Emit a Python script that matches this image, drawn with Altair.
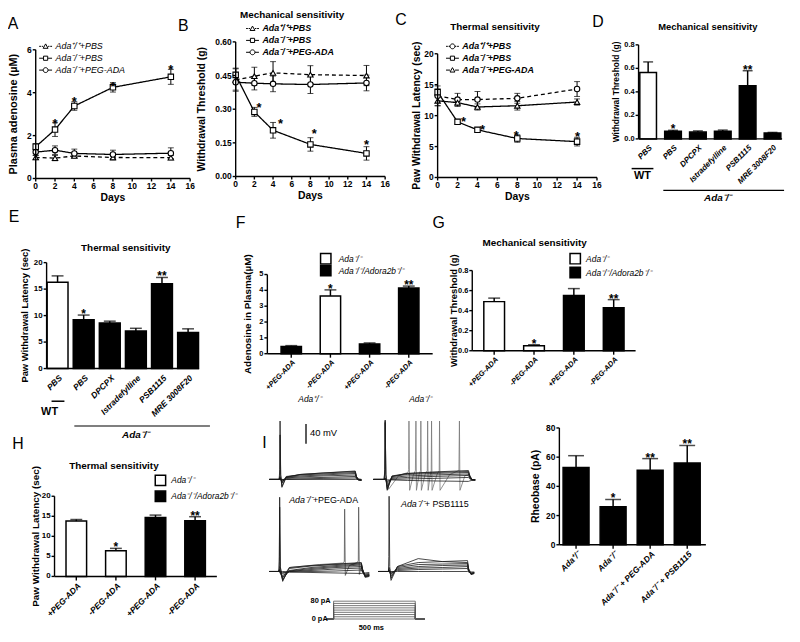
import altair as alt
import pandas as pd

W, H = 792, 634
FONT = "Liberation Sans"
NARROW = "Liberation Sans Narrow, Liberation Sans, Arial"


def px(v):
    return v - 8


def py(v):
    return v - 8


KO = "Ada⁻/⁻"
WTG = "Ada⁺/⁺"
HET = "Ada⁺/⁻"
DKO = "Ada⁻/⁻/Adora2b⁻/⁻"

# ---------------- data ----------------
DAYS = [0, 2, 4, 8, 14]
DAY_TICKS = [0, 2, 4, 6, 8, 10, 12, 14, 16]

A_NAMES = [WTG + "+PBS", KO + "+PBS", KO + "+PEG-ADA"]
A_MEANS = [[0.98, 0.95, 1.05, 0.98, 0.97],
           [1.48, 2.28, 3.38, 4.25, 4.74],
           [1.23, 1.32, 1.17, 1.12, 1.18]]
A_SEMS = [[0.10, 0.12, 0.08, 0.12, 0.10],
          [0.15, 0.32, 0.20, 0.22, 0.35],
          [0.15, 0.20, 0.20, 0.20, 0.25]]
A_STAR_X = [2, 4, 8, 14]
A_STAR_Y = [2.88, 3.9, 4.6, 5.4]
A_YTICKS = [0, 2, 4, 6]

B_NAMES = [WTG + "+PBS", KO + "+PBS", KO + "+PEG-ADA"]
B_MEANS = [[0.43, 0.447, 0.462, 0.454, 0.45],
           [0.453, 0.288, 0.206, 0.143, 0.103],
           [0.42, 0.416, 0.413, 0.41, 0.417]]
B_SEMS = [[0.05, 0.04, 0.05, 0.04, 0.045],
          [0.03, 0.02, 0.035, 0.03, 0.03],
          [0.035, 0.03, 0.035, 0.04, 0.035]]
B_STAR_X = [2.5, 4.8, 8.4, 14.0]
B_STAR_Y = [0.335, 0.265, 0.218, 0.17]
B_YTICKS = [0, 0.15, 0.30, 0.45, 0.60]

C_NAMES = [WTG + "+PBS", KO + "+PBS", KO + "+PEG-ADA"]
C_MEANS = [[13.2, 12.6, 12.6, 12.8, 14.3],
           [13.8, 9.0, 7.7, 6.3, 5.8],
           [12.4, 12.1, 11.4, 11.6, 12.2]]
C_SEMS = [[1.6, 1.0, 1.3, 0.8, 1.2],
          [0.5, 0.4, 0.35, 0.6, 0.7],
          [0.8, 0.6, 0.5, 0.7, 0.5]]
C_STAR_X = [2.6, 4.5, 7.9, 14.05]
C_STAR_Y = [10.1, 8.85, 7.9, 7.6]
C_YTICKS = [0, 5, 10, 15, 20]

D_CATS = ["PBS|WT", "PBS|KO", "DPCPX|KO", "Istradefylline|KO", "PSB1115|KO", "MRE 3008F20|KO"]
D_LABELS = ["PBS", "PBS", "DPCPX", "Istradefylline", "PSB1115", "MRE 3008F20"]
D_MEAN = [0.565, 0.065, 0.058, 0.065, 0.452, 0.05]
D_SEM = [0.09, 0.008, 0.01, 0.01, 0.128, 0.005]
D_FILL = ["WT", "KO", "KO", "KO", "KO", "KO"]
D_STARS = ["", "*", "", "", "**", ""]
D_YTICKS = [0, 0.2, 0.4, 0.6, 0.8]

E_CATS = D_CATS
E_LABELS = D_LABELS
E_MEAN = [16.3, 9.2, 8.6, 7.1, 16.0, 6.8]
E_SEM = [1.2, 0.9, 0.35, 0.5, 1.2, 0.7]
E_FILL = ["WT", "KO", "KO", "KO", "KO", "KO"]
E_STARS = ["", "*", "", "", "**", ""]
E_YTICKS = [0, 5, 10, 15, 20]

PEG_CATS = ["+PEG-ADA|1", "-PEG-ADA|2", "+PEG-ADA|3", "-PEG-ADA|4"]
PEG_LABELS = ["+PEG-ADA", "-PEG-ADA", "+PEG-ADA", "-PEG-ADA"]
F_MEAN = [0.45, 3.65, 0.62, 4.15]
F_SEM = [0.06, 0.38, 0.06, 0.12]
F_FILL = [DKO, KO, DKO, DKO]
F_STARS = ["", "*", "", "**"]
F_YTICKS = [0, 1, 2, 3, 4, 5]

G_MEAN = [0.49, 0.05, 0.55, 0.43]
G_SEM = [0.035, 0.01, 0.07, 0.08]
G_FILL = [KO, KO, DKO, DKO]
G_STARS = ["", "*", "", "**"]
G_YTICKS = [0, 0.2, 0.4, 0.6, 0.8]

H_MEAN = [13.8, 6.4, 14.7, 13.9]
H_SEM = [0.4, 0.6, 0.6, 1.0]
H_FILL = [KO, KO, DKO, DKO]
H_STARS = ["", "*", "", "**"]
H_YTICKS = [0, 5, 10, 15, 20]

I_CATS = [HET, KO, KO + " + PEG-ADA", KO + " + PSB1115"]
I_MEAN = [53, 26, 51, 56]
I_SEM = [8, 5, 8, 12]
I_FILL = ["x", "x", "x", "x"]
I_STARS = ["", "*", "**", "**"]
I_YTICKS = [0, 20, 40, 60, 80]

LEGEND_GENO = [KO, DKO]

# electrophysiology traces (ms, mV)
TL_T = [0, 64, 68, 70, 74, 82, 110, 200, 350, 560, 568, 580, 600]
TL_SWEEPS = [
    [-70, -70, -50, 48, -60, -86, -66, -60, -57, -53, -64, -69, -70],
    [-70, -70, -62, 20, -62, -84, -65, -60, -57, -54, -65, -70, -71],
    [-70, -70, -66, -65, -66, -78, -64, -61, -59, -56, -65, -70, -71],
    [-70, -70, -67, -67, -69, -76, -66, -63, -61, -58, -66, -70, -72],
    [-70, -70, -68, -68, -70, -74, -67, -65, -63, -61, -67, -71, -72],
    [-70, -70, -69, -69, -70, -72, -68, -67, -66, -64, -68, -71, -72],
    [-70, -70, -69, -69, -70, -71, -70, -69, -68, -67, -69, -71, -71],
    [-70, -70, -70, -70, -70, -70, -70, -70, -70, -70, -70, -70, -70],
]
TR_T = [0, 64, 68, 70, 74, 82, 110, 200, 350, 560, 568, 580, 600]
TR_SWEEPS = [
    [-70, -70, -50, 50, -60, -92, -64, -58, -55, -52, -62, -70, -71],
    [-70, -70, -55, 45, -62, -90, -63, -58, -56, -54, -64, -70, -71],
    [-70, -70, -67, -67, -70, -88, -64, -60, -58, -56, -65, -70, -71],
    [-70, -70, -68, -68, -70, -84, -66, -63, -61, -59, -66, -71, -71],
    [-70, -70, -69, -69, -70, -78, -68, -66, -64, -62, -67, -71, -71],
    [-70, -70, -69, -70, -70, -74, -70, -69, -68, -66, -69, -71, -71],
    [-70, -70, -70, -70, -70, -71, -71, -72, -73, -74, -73, -72, -71],
]
TR_SPIKE_T = [0, 64, 68, 70, 74, 90, 150, 205, 208, 210, 214, 235, 248, 251, 254,
              270, 278, 280, 283, 305, 318, 320, 323, 335, 341, 343, 346, 375, 388,
              390, 393, 450, 504, 507, 510, 540, 565, 580, 600]
TR_SPIKE_V = [-70, -70, -50, 48, -60, -90, -62, -56, -50, 48, -92, -62, -52, 48, -92,
              -60, -52, 48, -92, -60, -52, 48, -92, -62, -52, 48, -92, -60, -52,
              48, -92, -60, -52, 48, -92, -62, -60, -70, -71]
BL_T = [0, 58, 60, 62, 66, 80, 120, 250, 400, 552, 560, 575, 600]
BL_SWEEPS = [
    [-70, -70, -40, 80, -60, -90, -62, -58, -55, -52, -66, -78, -76],
    [-70, -70, -50, 60, -62, -88, -64, -59, -56, -53, -67, -80, -78],
    [-70, -70, -66, -66, -72, -86, -68, -62, -58, -55, -66, -80, -78],
    [-70, -70, -67, -68, -74, -82, -69, -64, -60, -57, -68, -82, -80],
    [-70, -70, -68, -69, -73, -78, -70, -66, -62, -60, -70, -80, -79],
    [-70, -70, -69, -70, -72, -74, -70, -68, -65, -63, -71, -77, -76],
    [-70, -70, -69, -70, -71, -72, -71, -70, -69, -67, -72, -75, -74],
    [-70, -70, -70, -70, -70, -70, -71, -72, -73, -74, -74, -73, -72],
]
BL_SPIKE_T = [0, 58, 62, 66, 80, 120, 300, 440, 450, 452, 456, 480, 528, 534, 536,
              540, 552, 560, 575, 600]
BL_SPIKE_V = [-70, -70, -60, -70, -82, -62, -56, -53, -50, 56, -78, -58, -52, -48, 60,
              -76, -60, -68, -80, -78]
BR_T = [0, 64, 66, 68, 72, 80, 120, 250, 400, 558, 565, 580, 600]
BR_SWEEPS = [
    [-70, -70, -40, 82, -60, -88, -60, -52, -50, -48, -64, -74, -72],
    [-70, -70, -64, -62, -66, -84, -60, -44, -50, -52, -66, -76, -74],
    [-70, -70, -66, -66, -70, -80, -62, -56, -55, -54, -68, -76, -74],
    [-70, -70, -67, -68, -72, -76, -64, -60, -58, -57, -68, -75, -73],
    [-70, -70, -68, -69, -71, -74, -66, -63, -62, -60, -70, -74, -73],
    [-70, -70, -69, -70, -70, -72, -68, -66, -65, -64, -70, -73, -72],
    [-70, -70, -70, -70, -70, -70, -70, -70, -70, -70, -71, -71, -71],
]
SCALEBAR_T = [239]
SCALEBAR_MV = [2, 42]
STIM_LEVELS = [0, 10, 20, 30, 40, 50, 60, 70, 80]
STIM_T = [0, 42, 42, 542, 542, 600]
STIM_ON = [0, 0, 1, 1, 0, 0]

# ---------------- helpers ----------------
M = 0.38
TRI = f"M0,{-M}L{M},{0.8 * M}L{-M},{0.8 * M}Z"
SQ = f"M{-0.85 * M},{-0.85 * M}H{0.85 * M}V{0.85 * M}H{-0.85 * M}Z"
CIR = f"M{-M},0A{M},{M} 0 1 0 {M},0A{M},{M} 0 1 0 {-M},0Z"
SOLID = f"M-1,0H{-M}M{M},0H1"
DASH = f"M-1,0H-0.72M-0.6,0H{-M}M{M},0H0.6M0.72,0H1"
AX = 1.4


def lin(dom, r0, r1):
    return alt.Scale(domain=dom, range=[r0, r1], nice=False, zero=False)


def txt(s, x, y, size=10, weight="normal", style="normal", align="center", font=FONT, angle=0):
    return alt.Chart(pd.DataFrame({"s": [s]})).mark_text(
        fontSize=size, fontWeight=weight, fontStyle=style, align=align, angle=angle,
        baseline="middle", font=font, color="black").encode(
        x=alt.value(px(x)), y=alt.value(py(y)), text="s:N")


def hline(x0, x1, y, w=1.5):
    return alt.Chart(pd.DataFrame({"a": [0]})).mark_rule(color="black", strokeWidth=w).encode(
        x=alt.value(px(x0)), x2=alt.value(px(x1)), y=alt.value(py(y)))


def y_axis(ys, at_x, values, labels, title, title_x, y_bot, y_top, title_size=10.5, label_size=8.5):
    df = pd.DataFrame({"v": values, "lab": labels})
    dom = alt.Chart(pd.DataFrame({"lo": [values[0]], "hi": [values[-1]]})).mark_rule(
        color="black", strokeWidth=AX).encode(
        x=alt.value(px(at_x)), y=alt.Y("lo:Q", scale=ys, axis=None), y2="hi:Q")
    ticks = alt.Chart(df).mark_rule(color="black", strokeWidth=AX).encode(
        x=alt.value(px(at_x) - 3), x2=alt.value(px(at_x)), y=alt.Y("v:Q", scale=ys, axis=None))
    labs = alt.Chart(df).mark_text(align="right", baseline="middle", fontSize=label_size,
                                   fontWeight="bold", font=FONT, color="black").encode(
        x=alt.value(px(at_x) - 4), y=alt.Y("v:Q", scale=ys, axis=None), text="lab:N")
    ttl = txt(title, title_x, (y_bot + y_top) / 2, title_size, "bold", angle=270)
    return [dom, ticks, labs, ttl]


def x_axis_q(xs, at_y, values, labels, title, x_left, x_right, label_size=8.5):
    df = pd.DataFrame({"v": values, "lab": labels})
    dom = alt.Chart(pd.DataFrame({"lo": [values[0]], "hi": [values[-1]]})).mark_rule(
        color="black", strokeWidth=AX).encode(
        y=alt.value(py(at_y)), x=alt.X("lo:Q", scale=xs, axis=None), x2="hi:Q")
    ticks = alt.Chart(df).mark_rule(color="black", strokeWidth=AX).encode(
        x=alt.X("v:Q", scale=xs, axis=None), y=alt.value(py(at_y)), y2=alt.value(py(at_y) + 3))
    labs = alt.Chart(df).mark_text(align="center", baseline="middle", fontSize=label_size,
                                   fontWeight="bold", font=FONT, color="black").encode(
        x=alt.X("v:Q", scale=xs, axis=None), y=alt.value(py(at_y) + 8), text="lab:N")
    ttl = txt(title, (x_left + x_right) / 2, at_y + 20, 10.5, "bold")
    return [dom, ticks, labs, ttl]


def x_axis_band(xs, cats, labels, at_y, x0, x1, ticks=True, label_size=8):
    df = pd.DataFrame({"cat": cats, "lab": labels})
    out = [hline(x0, x1, at_y, AX)]
    if ticks:
        out.append(alt.Chart(df).mark_rule(color="black", strokeWidth=AX).encode(
            x=alt.X("cat:N", scale=xs, axis=None), y=alt.value(py(at_y)), y2=alt.value(py(at_y) + 4)))
    out.append(alt.Chart(df).mark_text(angle=315, align="right", baseline="middle", xOffset=3,
                                       fontSize=label_size, fontWeight="bold", fontStyle="italic",
                                       font=FONT, color="black").encode(
        x=alt.X("cat:N", scale=xs, axis=None), y=alt.value(py(at_y) + 8), text="lab:N"))
    return out


def line_panel(names, means, sems, shapes, dashes, paths, xs, ys, sx, sy, legend, axes):
    rows = []
    for n, ms, ss in zip(names, means, sems):
        for d, m, s in zip(DAYS, ms, ss):
            rows.append({"day": d, "mean": m, "lo": m - s, "hi": m + s, "series": n})
    df = pd.DataFrame(rows)
    base = alt.Chart(df)
    X = alt.X("day:Q", scale=xs, axis=None)
    line = base.mark_line(color="black", strokeWidth=1.3).encode(
        x=X, y=alt.Y("mean:Q", scale=ys, axis=None),
        strokeDash=alt.StrokeDash("series:N", scale=alt.Scale(domain=names, range=dashes), legend=None),
        detail="series:N")
    err = base.mark_rule(color="black", strokeWidth=1).encode(
        x=X, y=alt.Y("lo:Q", scale=ys, axis=None), y2="hi:Q")
    cap1 = base.mark_tick(color="black", orient="horizontal", size=6, thickness=1).encode(
        x=X, y=alt.Y("hi:Q", scale=ys, axis=None))
    cap2 = base.mark_tick(color="black", orient="horizontal", size=6, thickness=1).encode(
        x=X, y=alt.Y("lo:Q", scale=ys, axis=None))
    pts = base.mark_point(filled=True, fill="white", stroke="black", strokeWidth=1.1, size=30, opacity=1).encode(
        x=X, y=alt.Y("mean:Q", scale=ys, axis=None),
        shape=alt.Shape("series:N", scale=alt.Scale(domain=names, range=shapes), legend=None))
    stars = alt.Chart(pd.DataFrame({"x": sx, "y": sy})).mark_text(
        text="*", fontSize=13, fontWeight="bold", font=FONT, dy=7, color="black").encode(
        x=alt.X("x:Q", scale=xs, axis=None), y=alt.Y("y:Q", scale=ys, axis=None))
    leg = alt.Chart(pd.DataFrame({"series": names})).mark_point(
        filled=True, fill="white", stroke="black", strokeWidth=1, opacity=1).encode(
        x=alt.value(-80), y=alt.value(-80),
        shape=alt.Shape("series:N", scale=alt.Scale(domain=names, range=paths), legend=legend))
    return alt.layer(line, err, cap1, cap2, pts, stars, leg, *axes).resolve_scale(shape="independent")


def line_legend(x, y, weight):
    return alt.Legend(orient="none", legendX=px(x), legendY=py(y), title=None, symbolSize=169,
                      labelFont=FONT, labelFontSize=9, labelFontStyle="italic", labelFontWeight=weight,
                      labelColor="black", rowPadding=0, padding=0, labelOffset=3, symbolStrokeWidth=1)


def bar_panel(cats, means, sems, fills, fill_dom, fill_rng, stars, xs, ys, cap, axes):
    df = pd.DataFrame({"cat": cats, "mean": means,
                       "hi": [m + s for m, s in zip(means, sems)],
                       "fill": fills, "star": stars})
    base = alt.Chart(df)
    X = alt.X("cat:N", scale=xs, axis=None)
    bars = base.mark_bar(stroke="black", strokeWidth=1.5).encode(
        x=X, y=alt.Y("mean:Q", scale=ys, axis=None),
        fill=alt.Fill("fill:N", scale=alt.Scale(domain=fill_dom, range=fill_rng), legend=None))
    err = base.mark_rule(color="black", strokeWidth=1.5).encode(
        x=X, y=alt.Y("mean:Q", scale=ys, axis=None), y2="hi:Q")
    capm = base.mark_tick(color="black", orient="horizontal", size=cap, thickness=1.5).encode(
        x=X, y=alt.Y("hi:Q", scale=ys, axis=None))
    st = base.mark_text(fontSize=12, fontWeight="bold", font=FONT, baseline="alphabetic", dy=3, color="black").encode(
        x=X, y=alt.Y("hi:Q", scale=ys, axis=None), text="star:N")
    return alt.layer(bars, err, capm, st, *axes)


def box_legend(x, y0, y1, label_x):
    out = []
    for lab, yy, col in zip(LEGEND_GENO, [y0, y1], ["white", "black"]):
        out.append(alt.Chart(pd.DataFrame({"s": [lab]})).mark_square(
            size=110, fill=col, stroke="black", strokeWidth=1.5, opacity=1).encode(
            x=alt.value(px(x)), y=alt.value(py(yy))))
        out.append(txt(lab, label_x, yy, 8.5, style="italic", align="left"))
    return out


def trace_layer(sweeps, xs, ys, color, width):
    rows = []
    for k, (tt, vv) in enumerate(sweeps):
        for i, (t, v) in enumerate(zip(tt, vv)):
            rows.append({"t": t, "v": v, "sw": k, "i": i})
    return alt.Chart(pd.DataFrame(rows)).mark_line(color=color, strokeWidth=width).encode(
        x=alt.X("t:Q", scale=xs, axis=None), y=alt.Y("v:Q", scale=ys, axis=None),
        detail="sw:N", order="i:Q")


def fmt(vals, f):
    return [format(v, f) for v in vals]


layers = []

# ---------------- Panel A ----------------
xsA = lin([0, 16], px(36), px(192))
ysA = lin([0, 6], py(177), py(47))
layers.append(line_panel(
    A_NAMES, A_MEANS, A_SEMS, ["triangle-up", "square", "circle"], [[4, 3], [1, 0], [1, 0]],
    [DASH + TRI, SOLID + SQ, SOLID + CIR], xsA, ysA, A_STAR_X, A_STAR_Y,
    line_legend(39, 36.5, "normal"),
    x_axis_q(xsA, 177, DAY_TICKS, fmt(DAY_TICKS, "d"), "Days", 36, 192)
    + y_axis(ysA, 36, A_YTICKS, fmt(A_YTICKS, "d"), "Plasma adenosine (µM)", 14, 177, 47, 11)))

# ---------------- Panel B ----------------
xsB = lin([0, 16], px(238), px(389))
ysB = lin([0, 0.6], py(175), py(39))
layers.append(line_panel(
    B_NAMES, B_MEANS, B_SEMS, ["triangle-up", "square", "circle"], [[4, 3], [1, 0], [1, 0]],
    [DASH + TRI, SOLID + SQ, SOLID + CIR], xsB, ysB, B_STAR_X, B_STAR_Y,
    line_legend(248, 18.5, "bold"),
    x_axis_q(xsB, 175, DAY_TICKS, fmt(DAY_TICKS, "d"), "Days", 238, 389)
    + y_axis(ysB, 238, B_YTICKS, fmt(B_YTICKS, ".2f"), "Withdrawal Threshold (g)", 204, 175, 39, 10.5)))

# ---------------- Panel C ----------------
xsC = lin([0, 16], px(442), px(603))
ysC = lin([0, 20], py(176), py(51))
layers.append(line_panel(
    C_NAMES, C_MEANS, C_SEMS, ["circle", "square", "triangle-up"], [[4, 3], [1, 0], [1, 0]],
    [DASH + CIR, SOLID + SQ, SOLID + TRI], xsC, ysC, C_STAR_X, C_STAR_Y,
    line_legend(450, 36.5, "bold"),
    x_axis_q(xsC, 176, DAY_TICKS, fmt(DAY_TICKS, "d"), "Days", 442, 603)
    + y_axis(ysC, 442, C_YTICKS, fmt(C_YTICKS, "d"), "Paw Withdrawal Latency (sec)", 421, 176, 51, 10.5)))

# ---------------- Panel D ----------------
xsD = alt.Scale(domain=D_CATS, range=[px(645), px(790)], paddingInner=0.33, paddingOuter=0.05)
ysD = alt.Scale(domain=[0, 0.8], range=[py(137), py(42)], nice=False)
layers.append(bar_panel(
    D_CATS, D_MEAN, D_SEM, D_FILL, ["WT", "KO"], ["white", "black"], D_STARS, xsD, ysD, 10,
    x_axis_band(xsD, D_CATS, D_LABELS, 137, 645, 790, ticks=False, label_size=8)
    + y_axis(ysD, 645, D_YTICKS, fmt(D_YTICKS, ".1f"), "Withdrawal Threshold (g)", 622, 137, 42, 8.5, 7.5)))

# ---------------- Panel E ----------------
xsE = alt.Scale(domain=E_CATS, range=[px(47), px(201)], paddingInner=0.2, paddingOuter=0.02)
ysE = alt.Scale(domain=[0, 20], range=[py(369), py(262)], nice=False)
layers.append(bar_panel(
    E_CATS, E_MEAN, E_SEM, E_FILL, ["WT", "KO"], ["white", "black"], E_STARS, xsE, ysE, 12,
    x_axis_band(xsE, E_CATS, E_LABELS, 369, 47, 201, ticks=False, label_size=8.5)
    + y_axis(ysE, 47, E_YTICKS, fmt(E_YTICKS, "d"), "Paw Withdrawal Latency (sec)", 25, 369, 262, 9.5, 8)))

# ---------------- Panel F ----------------
xsF = alt.Scale(domain=PEG_CATS, range=[px(270), px(437)], paddingInner=0.48, paddingOuter=0.35)
ysF = alt.Scale(domain=[0, 5], range=[py(354), py(274)], nice=False)
layers.append(bar_panel(
    PEG_CATS, F_MEAN, F_SEM, F_FILL, [KO, DKO], ["white", "black"], F_STARS, xsF, ysF, 12,
    x_axis_band(xsF, PEG_CATS, PEG_LABELS, 354, 270, 437, ticks=True, label_size=7.5)
    + y_axis(ysF, 270, F_YTICKS, fmt(F_YTICKS, "d"), "Adenosine in Plasma(µM)", 250, 354, 274, 10, 7.5)
    + box_legend(329, 258, 270, 342)))

# ---------------- Panel G ----------------
xsG = alt.Scale(domain=PEG_CATS, range=[px(477), px(642)], paddingInner=0.48, paddingOuter=0.29)
ysG = alt.Scale(domain=[0, 0.8], range=[py(351), py(270)], nice=False)
layers.append(bar_panel(
    PEG_CATS, G_MEAN, G_SEM, G_FILL, [KO, DKO], ["white", "black"], G_STARS, xsG, ysG, 12,
    x_axis_band(xsG, PEG_CATS, PEG_LABELS, 351, 477, 642, ticks=True, label_size=7.5)
    + y_axis(ysG, 477, G_YTICKS, fmt(G_YTICKS, ".1f"), "Withdrawal Threshold (g)", 459, 351, 270, 9.5, 7.5)
    + box_legend(581, 258, 272, 592)))

# ---------------- Panel H ----------------
xsH = alt.Scale(domain=PEG_CATS, range=[px(55), px(219)], paddingInner=0.48, paddingOuter=0.29)
ysH = alt.Scale(domain=[0, 20], range=[py(579), py(498)], nice=False)
layers.append(bar_panel(
    PEG_CATS, H_MEAN, H_SEM, H_FILL, [KO, DKO], ["white", "black"], H_STARS, xsH, ysH, 12,
    x_axis_band(xsH, PEG_CATS, PEG_LABELS, 579, 55, 219, ticks=True, label_size=8.5)
    + y_axis(ysH, 55, H_YTICKS, fmt(H_YTICKS, "d"), "Paw Withdrawal Latency (sec)", 36, 579, 498, 10, 8)
    + box_legend(162, 482, 498, 173)))

# ---------------- Panel I bars ----------------
xsI = alt.Scale(domain=I_CATS, range=[px(565), px(711)], paddingInner=0.3, paddingOuter=0.1)
ysI = alt.Scale(domain=[0, 80], range=[py(547), py(429)], nice=False)
layers.append(bar_panel(
    I_CATS, I_MEAN, I_SEM, I_FILL, ["x"], ["black"], I_STARS, xsI, ysI, 16,
    x_axis_band(xsI, I_CATS, I_CATS, 547, 565, 713, ticks=True, label_size=8.5)
    + y_axis(ysI, 565, I_YTICKS, fmt(I_YTICKS, "d"), "Rheobase (pA)", 541, 547, 429, 10.5, 8.5)))

# ---------------- Panel I traces ----------------
MV = [-100, 90]
xsTL = lin([0, 600], px(272), px(365))
ysTop = lin(MV, py(496), py(401))
scalebar = alt.Chart(pd.DataFrame({"t": SCALEBAR_T, "v0": [SCALEBAR_MV[0]], "v1": [SCALEBAR_MV[1]]})).mark_rule(
    color="black", strokeWidth=1.3).encode(
    x=alt.X("t:Q", scale=xsTL, axis=None), y=alt.Y("v0:Q", scale=ysTop, axis=None), y2="v1:Q")
layers.append(alt.layer(
    trace_layer([(TL_T, s) for s in TL_SWEEPS], xsTL, ysTop, "#1a1a1a", 0.8), scalebar))

xsTR = lin([0, 600], px(377), px(480))
layers.append(alt.layer(
    trace_layer([(TR_SPIKE_T, TR_SPIKE_V)], xsTR, ysTop, "#777777", 0.8),
    trace_layer([(TR_T, s) for s in TR_SWEEPS], xsTR, ysTop, "#1a1a1a", 0.8)))

xsBL = lin([0, 600], px(272), px(373))
ysBot = lin(MV, py(589), py(494))
layers.append(alt.layer(
    trace_layer([(BL_SPIKE_T, BL_SPIKE_V)], xsBL, ysBot, "#555555", 0.8),
    trace_layer([(BL_T, s) for s in BL_SWEEPS], xsBL, ysBot, "#1a1a1a", 0.8)))

xsBR = lin([0, 600], px(382), px(479))
layers.append(trace_layer([(BR_T, s) for s in BR_SWEEPS], xsBR, ysBot, "#1a1a1a", 0.8))

stim_rows = []
for L in STIM_LEVELS:
    for i, (t, on) in enumerate(zip(STIM_T, STIM_ON)):
        stim_rows.append({"t": t, "pA": L * on, "lvl": L, "i": i})
xsS = lin([0, 600], px(330), px(429))
ysS = lin([0, 80], py(622), py(604))
layers.append(alt.Chart(pd.DataFrame(stim_rows)).mark_line(color="#555555", strokeWidth=0.8).encode(
    x=alt.X("t:Q", scale=xsS, axis=None), y=alt.Y("pA:Q", scale=ysS, axis=None),
    detail="lvl:N", order="i:Q"))

# ---------------- text annotations ----------------
for letter, x, y in [("A", 13, 21), ("B", 185, 23), ("C", 405, 17), ("D", 604, 19), ("E", 14, 216),
                     ("F", 243, 222), ("G", 443, 222), ("H", 18, 445), ("I", 267, 444)]:
    layers.append(txt(letter, x, y, size=16))

layers += [
    txt("Mechanical sensitivity", 295, 12, 10, "bold", font=NARROW),
    txt("Thermal sensitivity", 500, 24, 10, "bold"),
    txt("Mechanical sensitivity", 715, 24, 9.5, "bold"),
    txt("Thermal sensitivity", 127, 247, 10, "bold"),
    txt("Mechanical sensitivity", 540, 242, 10, "bold"),
    txt("Thermal sensitivity", 115, 467, 10, "bold"),
    hline(638, 660, 167), txt("WT", 649, 175, 11, "bold"),
    hline(670, 792, 189, 1.2), txt(KO, 725, 197, 10, "bold", "italic"),
    hline(52, 65, 402), txt("WT", 50, 413, 11, "bold"),
    hline(75, 212, 427, 1.2), txt(KO, 137, 436, 10, "bold", "italic"),
    txt(HET, 313, 400, 8.5, style="italic"),
    txt(KO, 425, 400, 8.5, style="italic"),
    txt(KO, 292, 502, 9, style="italic", align="left"),
    txt("+PEG-ADA", 316, 502, 9, align="left"),
    txt(KO, 405, 506, 9, style="italic", align="left"),
    txt("+ PSB1115", 429, 506, 9, align="left"),
    txt("40 mV", 313, 434, 9.5, align="left"),
    txt("80 pA", 334, 604, 7.5, "bold", align="right"),
    txt("0 pA", 331, 622, 7.5, "bold", align="right"),
    txt("500 ms", 375, 631, 7.5, "bold"),
]

chart = (
    alt.layer(*layers)
    .resolve_scale(x="independent", y="independent", shape="independent", fill="independent",
                   strokeDash="independent")
    .resolve_legend(shape="independent", fill="independent")
    .properties(width=W, height=H, autosize=alt.AutoSizeParams(type="none"), padding=0)
    .configure_view(stroke=None)
    .configure_legend(labelFont=FONT, labelColor="black")
)

chart.save("out.html", embed_options={"renderer": "svg", "actions": False})
